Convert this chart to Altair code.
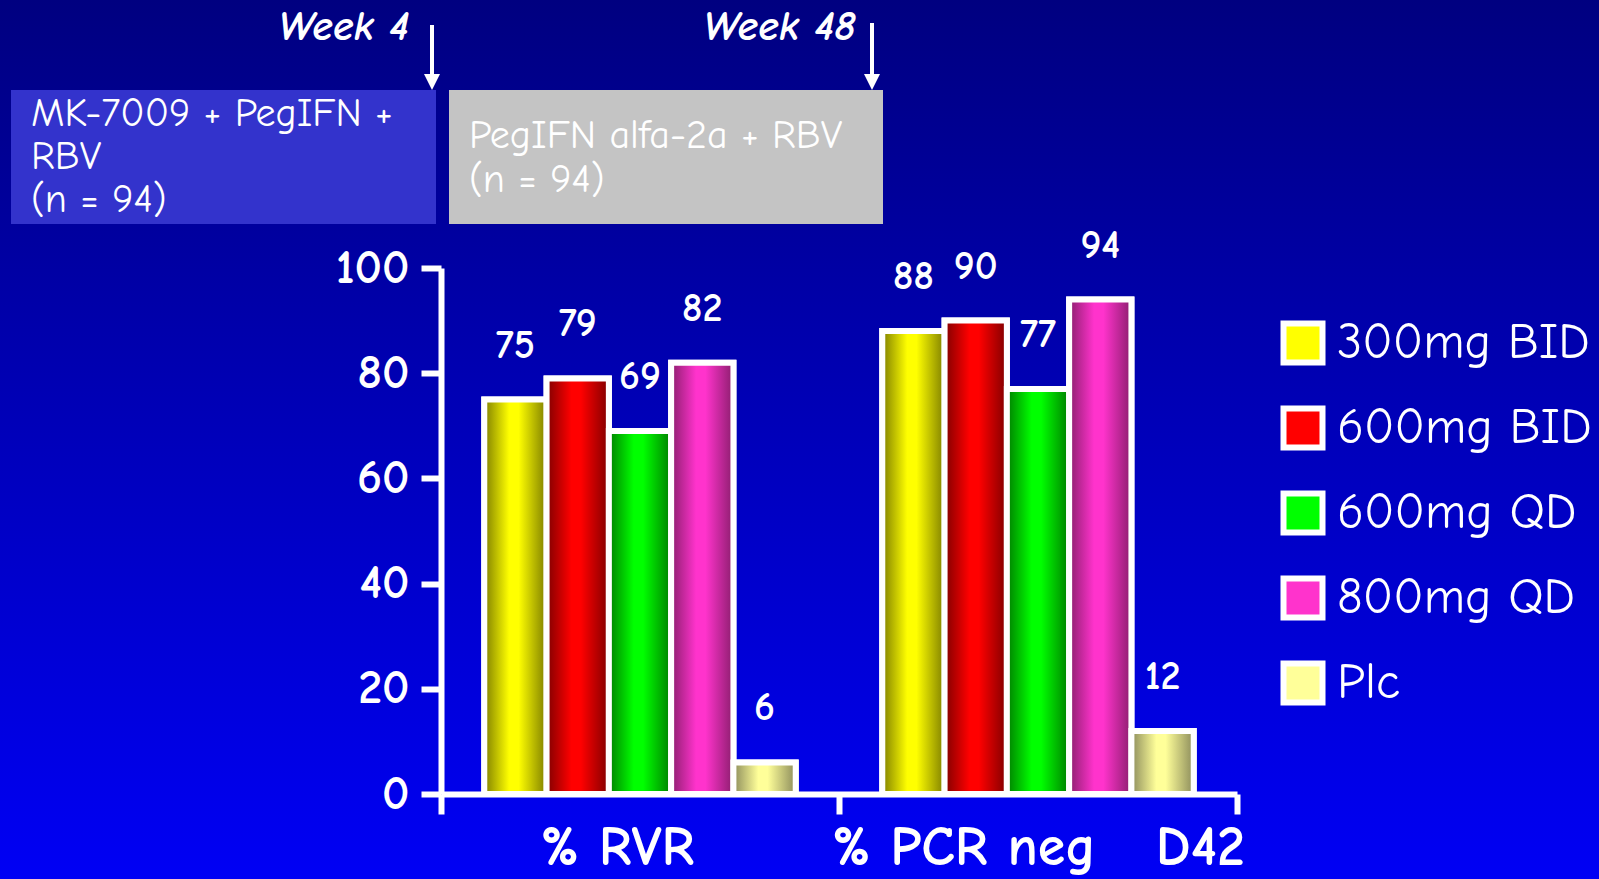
import altair as alt
import pandas as pd

# Outcome measures and treatment arms
categories = ["% RVR", "% PCR neg\u00a0\u00a0\u00a0D42"]
arms = ["300mg BID", "600mg BID", "600mg QD", "800mg QD", "Plc"]
rvr_pct = [75, 79, 69, 82, 6]
pcr_neg_d42_pct = [88, 90, 77, 94, 12]

# Bright centre colour and darker edge shade of every arm's bar
arm_colors = ["#FFFF00", "#FF0000", "#00FF00", "#FF33CC", "#FFFF99"]
arm_shades = ["#7F7F00", "#800000", "#007F00", "#8C1E6E", "#8C8C5C"]

y_ticks = [0, 20, 40, 60, 80, 100]

# Study design header
week_labels = ["Week 4", "Week 48"]
phase1_lines = ["MK-7009 + PegIFN +", "RBV", "(n = 94)"]
phase2_lines = ["PegIFN alfa-2a + RBV", "(n = 94)"]

FONT = "Comic Sans MS, Comic Neue, Open Sans, sans-serif"

# Page geometry: plot area sits inside a 1599 x 879 canvas
CANVAS_W, CANVAS_H = 1599, 879
LEFT, TOP = 441, 268
PLOT_W, PLOT_H = 796, 526

rows = []
for measure, values in zip(categories, [rvr_pct, pcr_neg_d42_pct]):
    for arm, v in zip(arms, values):
        rows.append({"measure": measure, "arm": arm, "value": v})
df = pd.DataFrame(rows)
one = pd.DataFrame({"k": [0]})

x_enc = alt.X(
    "measure:N",
    sort=categories,
    scale=alt.Scale(domain=categories, paddingInner=0, paddingOuter=0),
    axis=alt.Axis(
        title=None, labelAngle=0, tickBand="extent", tickSize=20, tickWidth=6,
        tickColor="white", domainColor="white", domainWidth=6,
        labelColor="white", labelFont=FONT, labelFontSize=56, labelLimit=0,
        labelFontWeight="bold", labelPadding=6, zindex=1,
        # first measure's label sits a little left of its slot centre
        labelOffset={"condition": {"test": "datum.index == 0", "value": -23},
                     "value": 0},
    ),
)
# Five arms share the middle of each measure's slot
xoff_enc = alt.XOffset(
    "arm:N", sort=arms,
    scale=alt.Scale(domain=arms, paddingInner=0, paddingOuter=0.695),
)
y_enc = alt.Y(
    "value:Q",
    scale=alt.Scale(domain=[0, 100], nice=False, zero=True),
    axis=alt.Axis(
        title=None, values=y_ticks, grid=False, tickSize=20, tickWidth=6,
        tickColor="white", domainColor="white", domainWidth=6,
        labelColor="white", labelFont=FONT, labelFontSize=48,
        labelFontWeight="bold", labelPadding=12, zindex=1,
    ),
)


def px(v, origin):
    return alt.value(v - origin)


# Page background: vertical navy-to-blue wash
background = alt.Chart(one).mark_rect(
    fill=alt.Gradient(
        gradient="linear", x1=0, y1=0, x2=0, y2=1,
        stops=[alt.GradientStop(offset=0, color="#000080"),
               alt.GradientStop(offset=1, color="#0000F5")],
    )
).encode(
    x=px(0, LEFT), x2=px(CANVAS_W, LEFT), y=px(0, TOP), y2=px(CANVAS_H, TOP)
)

# Flat bars carrying the colour legend
legend_bars = alt.Chart(df).mark_bar(stroke="white", strokeWidth=6).encode(
    x=x_enc, xOffset=xoff_enc, y=y_enc,
    color=alt.Color(
        "arm:N", sort=arms,
        scale=alt.Scale(domain=arms, range=arm_colors),
        legend=alt.Legend(
            title=None, orient="none", legendX=837, legendY=50, padding=0,
            symbolType="square", symbolSize=1521, symbolStrokeWidth=6,
            symbolStrokeColor="white", symbolOpacity=1,
            labelColor="white", labelFont=FONT, labelFontSize=50,
            labelLimit=0, labelOffset=9, rowPadding=21,
        ),
    ),
)

# Shaded cylinder-like bars, one layer per arm
shaded = []
for arm, col, shade in zip(arms, arm_colors, arm_shades):
    shaded.append(
        alt.Chart(df)
        .transform_filter(alt.datum.arm == arm)
        .mark_bar(
            fill=alt.Gradient(
                gradient="linear", x1=0, y1=0, x2=1, y2=0,
                stops=[alt.GradientStop(offset=0, color=shade),
                       alt.GradientStop(offset=0.4, color=col),
                       alt.GradientStop(offset=0.55, color=col),
                       alt.GradientStop(offset=1, color=shade)],
            ),
            stroke="white", strokeWidth=6,
        )
        .encode(x=x_enc, xOffset=xoff_enc, y=y_enc)
    )

value_labels = alt.Chart(df).mark_text(
    dy=-54, fontSize=40, fontWeight="bold", color="white", font=FONT,
    baseline="middle", align="center",
).encode(x=x_enc, xOffset=xoff_enc, y=y_enc, text="value:Q")

# Header: treatment phase boxes
phase1_box = alt.Chart(one).mark_rect(fill="#3333CC").encode(
    x=px(11, LEFT), x2=px(436, LEFT), y=px(90, TOP), y2=px(224, TOP)
)
phase2_box = alt.Chart(one).mark_rect(fill="#C4C4C4").encode(
    x=px(449, LEFT), x2=px(883, LEFT), y=px(90, TOP), y2=px(224, TOP)
)
phase1_text = alt.Chart(one).mark_text(
    text=phase1_lines, align="left", baseline="middle", lineHeight=43,
    fontSize=40, color="white", font=FONT,
).encode(x=px(31, LEFT), y=px(114, TOP))
phase2_text = alt.Chart(one).mark_text(
    text=phase2_lines, align="left", baseline="middle", lineHeight=44,
    fontSize=40, color="white", font=FONT,
).encode(x=px(469, LEFT), y=px(136, TOP))

# Week markers with downward arrows
week4 = alt.Chart(one).mark_text(
    text=week_labels[0], align="right", baseline="middle", fontSize=42,
    fontWeight="bold", fontStyle="italic", color="white", font=FONT,
).encode(x=px(409, LEFT), y=px(27, TOP))
week48 = alt.Chart(one).mark_text(
    text=week_labels[1], align="right", baseline="middle", fontSize=42,
    fontWeight="bold", fontStyle="italic", color="white", font=FONT,
).encode(x=px(856, LEFT), y=px(27, TOP))

arrow_path = "M -1 -1 L 1 -1 L 0 1 Z"
arrows = []
for ax, top in [(432, 25), (872, 23)]:
    arrows.append(
        alt.Chart(one).mark_rule(color="white", strokeWidth=4).encode(
            x=px(ax, LEFT), y=px(top, TOP), y2=px(78, TOP)
        )
    )
    arrows.append(
        alt.Chart(one).mark_point(
            shape=arrow_path, filled=True, color="white", opacity=1, size=256
        ).encode(x=px(ax, LEFT), y=px(82, TOP))
    )

chart = alt.layer(
    background, legend_bars, *shaded, value_labels,
    phase1_box, phase2_box, phase1_text, phase2_text, week4, week48, *arrows,
).properties(
    width=PLOT_W, height=PLOT_H, autosize="none",
    padding={"left": LEFT, "top": TOP, "right": CANVAS_W - LEFT - PLOT_W,
             "bottom": CANVAS_H - TOP - PLOT_H},
    background="#0000B0",
).configure_view(stroke=None)

chart.save("out.html", embed_options={"renderer": "svg", "actions": False})
